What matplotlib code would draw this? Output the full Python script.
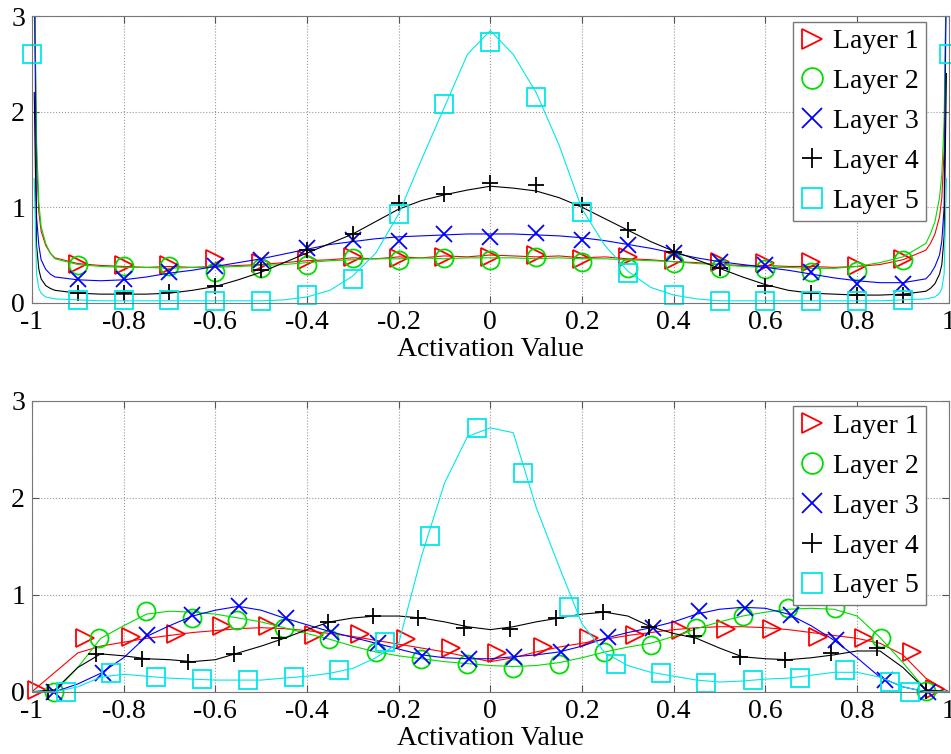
import numpy as np
import matplotlib.pyplot as plt

plt.rcParams['font.family'] = 'serif'
plt.rcParams['font.serif'] = ['Liberation Serif', 'Times New Roman', 'DejaVu Serif']
plt.rcParams['axes.unicode_minus'] = False

layer_names = ['Layer 1', 'Layer 2', 'Layer 3', 'Layer 4', 'Layer 5']
colors = ['#ff0000', '#00dd00', '#0000ff', '#000000', '#00e8e8']
markers = ['>', 'o', 'x', '+', 's']

xticks = [-1, -0.8, -0.6, -0.4, -0.2, 0, 0.2, 0.4, 0.6, 0.8, 1]
xtick_labels = ['-1', '-0.8', '-0.6', '-0.4', '-0.2', '0', '0.2', '0.4', '0.6', '0.8', '1']
yticks = [0, 1, 2, 3]

# ---------- top panel: histogram curves ----------
top_x = [-0.995, -0.99, -0.985, -0.98, -0.97, -0.96,
         -0.95, -0.9, -0.85, -0.8, -0.75, -0.7, -0.65, -0.6, -0.55, -0.5,
         -0.45, -0.4, -0.35, -0.3, -0.25, -0.2, -0.15, -0.1, -0.05, 0,
         0.05, 0.1, 0.15, 0.2, 0.25, 0.3, 0.35, 0.4, 0.45, 0.5,
         0.55, 0.6, 0.65, 0.7, 0.75, 0.8, 0.85, 0.9, 0.95,
         0.96, 0.97, 0.98, 0.985, 0.99, 0.995]

top_l1 = [3.6, 1.5, 0.95, 0.75, 0.6, 0.52,
          .47, .41, .39, .38, .37, .38, .37, .38, .39, .40,
          .42, .44, .45, .47, .46, .48, .47, .49, .48, .50,
          .49, .48, .49, .47, .48, .46, .45, .43, .42, .40,
          .39, .39, .38, .38, .37, .38, .40, .45, .55,
          0.62, 0.72, 0.9, 1.1, 1.6, 3.6]
top_l2 = [3.6, 1.7, 1.05, 0.8, 0.62, 0.52,
          .46, .40, .38, .37, .37, .36, .37, .37, .38, .39,
          .40, .42, .44, .45, .46, .46, .47, .46, .47, .47,
          .47, .46, .47, .46, .46, .45, .44, .43, .41, .40,
          .38, .37, .37, .36, .36, .38, .42, .48, .62,
          0.72, 0.85, 1.1, 1.35, 1.9, 3.6]
top_l3 = [3.6, 0.9, 0.6, 0.45, 0.35, 0.3,
          .27, .24, .23, .24, .27, .31, .34, .38, .42, .46,
          .51, .56, .61, .64, .67, .69, .70, .71, .72, .72,
          .72, .71, .70, .68, .65, .61, .57, .52, .47, .43,
          .40, .37, .34, .30, .26, .23, .21, .21, .25,
          0.3, 0.38, 0.5, 0.65, 1.0, 3.6]
top_l4 = [2.2, 0.6, 0.35, 0.25, 0.18, 0.15,
          .13, .10, .09, .09, .09, .10, .13, .17, .24, .32,
          .42, .52, .62, .72, .85, .98, 1.07, 1.13, 1.18, 1.22,
          1.20, 1.17, 1.10, 1.00, .88, .76, .64, .54, .45, .36,
          .27, .19, .13, .10, .09, .08, .08, .09, .12,
          0.15, 0.2, 0.3, 0.4, 0.7, 2.4]
top_l5 = [1.3, 0.3, 0.15, 0.1, 0.06, 0.05,
          .04, .03, .02, .02, .02, .02, .02, .02, .02, .02,
          .03, .06, .13, .28, .52, .93, 1.5, 2.05, 2.6, 2.85,
          2.6, 2.2, 1.65, .98, .60, .33, .16, .08, .04, .02,
          .02, .02, .02, .02, .02, .02, .02, .03, .04,
          0.05, 0.06, 0.1, 0.15, 0.3, 1.3]

top_mk_x = [-0.9, -0.8, -0.7, -0.6, -0.5, -0.4, -0.3, -0.2, -0.1, 0,
            0.1, 0.2, 0.3, 0.4, 0.5, 0.6, 0.7, 0.8, 0.9]
top_mk_x5 = [-1] + top_mk_x + [1]
top_mk_l1 = [.41, .40, .40, .46, .42, .45, .48, .47, .48, .48, .50, .46, .48, .45, .43, .42, .43, .38, .46]
top_mk_l2 = [.39, .38, .38, .32, .36, .40, .47, .45, .47, .45, .48, .43, .36, .42, .36, .35, .32, .33, .45]
top_mk_l3 = [.25, .25, .32, .38, .45, .57, .66, .65, .72, .69, .73, .66, .60, .52, .43, .39, .32, .20, .20]
top_mk_l4 = [.10, .10, .11, .18, .34, .55, .72, 1.04, 1.14, 1.25, 1.23, 1.02, .76, .53, .36, .18, .10, .08, .08]
top_mk_l5 = [2.6, .03, .03, .03, .02, .02, .08, .25, .93, 2.08, 2.73, 2.15, .95, .31, .08, .02, .02, .02, .02, .03, 2.6]

# ---------- bottom panel ----------
bot_x = [-1, -0.95, -0.9, -0.85, -0.8, -0.75, -0.7, -0.65, -0.6, -0.55, -0.5,
         -0.45, -0.4, -0.35, -0.3, -0.25, -0.2, -0.15, -0.1, -0.05, 0,
         0.05, 0.1, 0.15, 0.2, 0.25, 0.3, 0.35, 0.4, 0.45, 0.5,
         0.55, 0.6, 0.65, 0.7, 0.75, 0.8, 0.85, 0.9, 0.95, 1]

bot_l1 = [0, .20, .40, .47, .51, .55, .58, .61, .63, .65, .66,
          .65, .63, .60, .57, .53, .49, .45, .41, .36, .31,
          .35, .41, .46, .50, .54, .58, .61, .64, .66, .67,
          .67, .66, .64, .61, .58, .55, .50, .38, .14, 0]
bot_l2 = [0, 0, .25, .55, .68, .80, .83, .82, .80, .76, .72,
          .66, .60, .54, .47, .41, .37, .34, .31, .29, .27,
          .26, .27, .30, .35, .41, .46, .50, .57, .65, .72,
          .78, .82, .85, .86, .85, .78, .56, .30, .02, 0]
bot_l3 = [0, 0, .08, .19, .35, .57, .68, .78, .84, .88, .84,
          .76, .69, .62, .56, .50, .44, .38, .35, .34, .34,
          .36, .38, .41, .47, .55, .61, .66, .72, .80, .85,
          .87, .86, .80, .68, .53, .35, .15, .05, 0, 0]
bot_l4 = [0, .02, .25, .39, .37, .34, .33, .31, .33, .40, .47,
          .55, .64, .72, .76, .78, .78, .76, .72, .67, .64,
          .67, .72, .76, .80, .82, .78, .67, .60, .55, .45,
          .36, .34, .33, .35, .38, .42, .42, .25, .02, 0]
bot_l5 = [0, 0, .05, .15, .18, .16, .14, .13, .12, .12, .12,
          .14, .16, .19, .24, .35, .50, 1.4, 2.15, 2.63, 2.72,
          2.67, 1.9, 1.29, .70, .40, .27, .20, .16, .12, .10,
          .11, .13, .14, .17, .20, .20, .15, .05, 0, 0]

bot_mk_x1 = [-0.99, -0.885, -0.785, -0.685, -0.585, -0.485, -0.385, -0.285, -0.185, -0.085,
             0.015, 0.115, 0.215, 0.315, 0.415, 0.515, 0.615, 0.715, 0.815, 0.92, 0.97]
bot_mk_l1 = [.02, .55, .56, .60, .68, .68, .58, .60, .54, .45,
             .40, .46, .55, .58, .64, .65, .65, .56, .55, .41, .03]
bot_mk_x2 = [-0.952, -0.854, -0.752, -0.65, -0.552, -0.45, -0.352, -0.25, -0.152, -0.05,
             0.049, 0.15, 0.249, 0.351, 0.449, 0.551, 0.649, 0.751, 0.853, 0.951]
bot_mk_l2 = [0, .55, .83, .76, .74, .66, .54, .41, .34, .29,
             .24, .29, .41, .48, .66, .78, .86, .86, .55, .01]
bot_mk_x3 = [-0.952, -0.846, -0.748, -0.65, -0.548, -0.446, -0.348, -0.246, -0.148, -0.046,
             0.052, 0.154, 0.256, 0.354, 0.456, 0.555, 0.657, 0.755, 0.86, 0.955]
bot_mk_l3 = [0, .19, .58, .79, .88, .76, .62, .50, .37, .34,
             .36, .41, .56, .66, .83, .86, .79, .53, .12, 0]
bot_mk_x4 = [-0.965, -0.86, -0.76, -0.66, -0.56, -0.46, -0.355, -0.255, -0.157, -0.057,
             0.043, 0.143, 0.245, 0.347, 0.445, 0.545, 0.643, 0.743, 0.843, 0.95]
bot_mk_l4 = [0, .39, .34, .31, .39, .55, .72, .78, .76, .66,
             .65, .76, .82, .67, .57, .36, .33, .40, .45, .01]
bot_mk_x5 = [-0.926, -0.828, -0.73, -0.63, -0.528, -0.428, -0.33, -0.229, -0.131, -0.03,
             0.071, 0.172, 0.274, 0.372, 0.471, 0.573, 0.675, 0.773, 0.871, 0.915]
bot_mk_l5 = [0, .19, .15, .13, .12, .15, .22, .51, 1.6, 2.72,
             2.25, .87, .29, .19, .09, .12, .14, .22, .10, 0]


def draw_panel(ax, cx, curves, mk_xs, mk_ys):
    handles = []
    for i in range(5):
        ax.plot(cx, curves[i], color=colors[i], lw=0.8, clip_on=True)
        ms = 13 if markers[i] in ('>', 's', 'o') else 12
        h, = ax.plot(mk_xs[i], mk_ys[i], ls='none', marker=markers[i], ms=ms,
                     mfc='none', mec=colors[i], mew=1.3, clip_on=False)
        handles.append(h)
    ax.set_xlim(-1, 1)
    ax.set_ylim(0, 3)
    ax.set_xticks(xticks)
    ax.set_xticklabels(xtick_labels)
    ax.set_yticks(yticks)
    ax.grid(True, ls=':', color='#999999', lw=0.8)
    ax.tick_params(direction='in', top=True, right=True, labelsize=20, length=5,
                   color='#555555', pad=5)
    for s in ax.spines.values():
        s.set_color('#777777')
    ax.set_xlabel('Activation Value', fontsize=20, labelpad=2)
    leg = ax.legend(handles, layer_names, loc='upper right', bbox_to_anchor=(0.975, 0.98),
                    fontsize=20, fancybox=False, framealpha=1, edgecolor='#777777',
                    handlelength=0.9, handletextpad=0.3, labelspacing=0.52, borderpad=0.25,
                    borderaxespad=0, markerscale=1.15)
    leg.get_frame().set_linewidth(1.0)
    return ax


fig = plt.figure(figsize=(9.51, 7.54), dpi=100)
ax1 = fig.add_axes([0.0336, 0.5985, 0.964, 0.380])
ax2 = fig.add_axes([0.0336, 0.0826, 0.964, 0.386])

draw_panel(ax1, top_x, [top_l1, top_l2, top_l3, top_l4, top_l5],
           [top_mk_x, top_mk_x, top_mk_x, top_mk_x, top_mk_x5],
           [top_mk_l1, top_mk_l2, top_mk_l3, top_mk_l4, top_mk_l5])
draw_panel(ax2, bot_x, [bot_l1, bot_l2, bot_l3, bot_l4, bot_l5],
           [bot_mk_x1, bot_mk_x2, bot_mk_x3, bot_mk_x4, bot_mk_x5],
           [bot_mk_l1, bot_mk_l2, bot_mk_l3, bot_mk_l4, bot_mk_l5])

fig.savefig('out.png', dpi=100)
